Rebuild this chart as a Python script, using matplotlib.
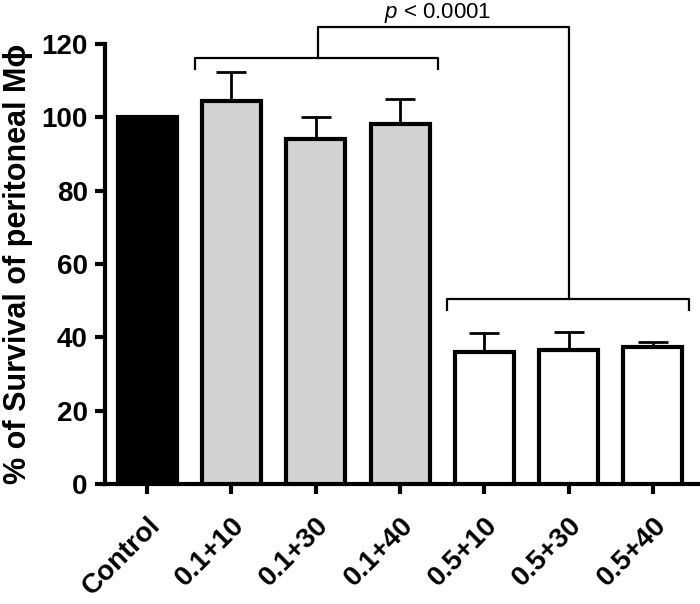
import matplotlib.pyplot as plt
import matplotlib.transforms as mtransforms
import numpy as np

plt.rcParams['font.family'] = ['Liberation Sans', 'DejaVu Sans']
plt.rcParams['mathtext.fontset'] = 'custom'
plt.rcParams['mathtext.it'] = 'Liberation Sans:italic'
plt.rcParams['mathtext.rm'] = 'Liberation Sans'

groups = ["Control", "0.1+10", "0.1+30", "0.1+40", "0.5+10", "0.5+30", "0.5+40"]
survival = [100.0, 104.4, 94.1, 98.2, 36.0, 36.5, 37.4]
sem = [0.0, 7.9, 6.0, 6.8, 5.2, 5.0, 1.4]
fill_colors = ["black", "#d3d3d3", "#d3d3d3", "#d3d3d3", "white", "white", "white"]
p_label = "< 0.0001"

x = np.arange(len(groups))

fig = plt.figure(figsize=(7, 6.04), dpi=100)
ax = fig.add_axes([0.15, 0.199, 0.849, 0.728])

ax.bar(x, survival, width=0.7, color=fill_colors, edgecolor="black", linewidth=3, zorder=3)
# only the upper half of the error bars
ax.errorbar(x[1:], survival[1:], yerr=[np.zeros(len(sem) - 1), sem[1:]], fmt="none",
            ecolor="black", elinewidth=2, capsize=10.5, capthick=2, zorder=2)

# brackets for the two groups and the link between them
lw = 1.6
y1, y2, ytop = 116.2, 50.4, 124.6
ax.plot([0.57, 0.57, 3.45, 3.45], [y1 - 3, y1, y1, y1 - 3], color="black", lw=lw, clip_on=False)
ax.plot([3.56, 3.56, 6.43, 6.43], [y2 - 3, y2, y2, y2 - 3], color="black", lw=lw, clip_on=False)
ax.plot([2.03, 2.03, 5.0, 5.0], [y1, ytop, ytop, y2], color="black", lw=lw, clip_on=False)
ax.text(3.45, 127.1, r"$\it{p}$ " + p_label, ha="center", va="baseline", fontsize=16)

ax.set_xlim(-0.5, 6.55)
ax.set_ylim(0, 120)
ax.set_yticks(np.arange(0, 121, 20))
ax.set_xticks(x)
ax.set_xticklabels(groups, rotation=45, ha="right", rotation_mode="anchor",
                   fontsize=20, fontweight="bold")
# nudge the slanted labels a little to the left
shift = mtransforms.ScaledTranslation(-0.08, 0, fig.dpi_scale_trans)
for lab in ax.get_xticklabels():
    lab.set_transform(lab.get_transform() + shift)
for lab in ax.get_yticklabels():
    lab.set_fontsize(20)
    lab.set_fontweight("bold")
ax.set_ylabel("% of Survival of peritoneal M\u03d5", fontsize=22, fontweight="bold", labelpad=6)

for s in ["top", "right"]:
    ax.spines[s].set_visible(False)
for s in ["left", "bottom"]:
    ax.spines[s].set_linewidth(3)
ax.tick_params(width=3, length=7.5)
ax.tick_params(axis="y", pad=5)
ax.tick_params(axis="x", pad=13)

fig.savefig("out.png", dpi=100)
